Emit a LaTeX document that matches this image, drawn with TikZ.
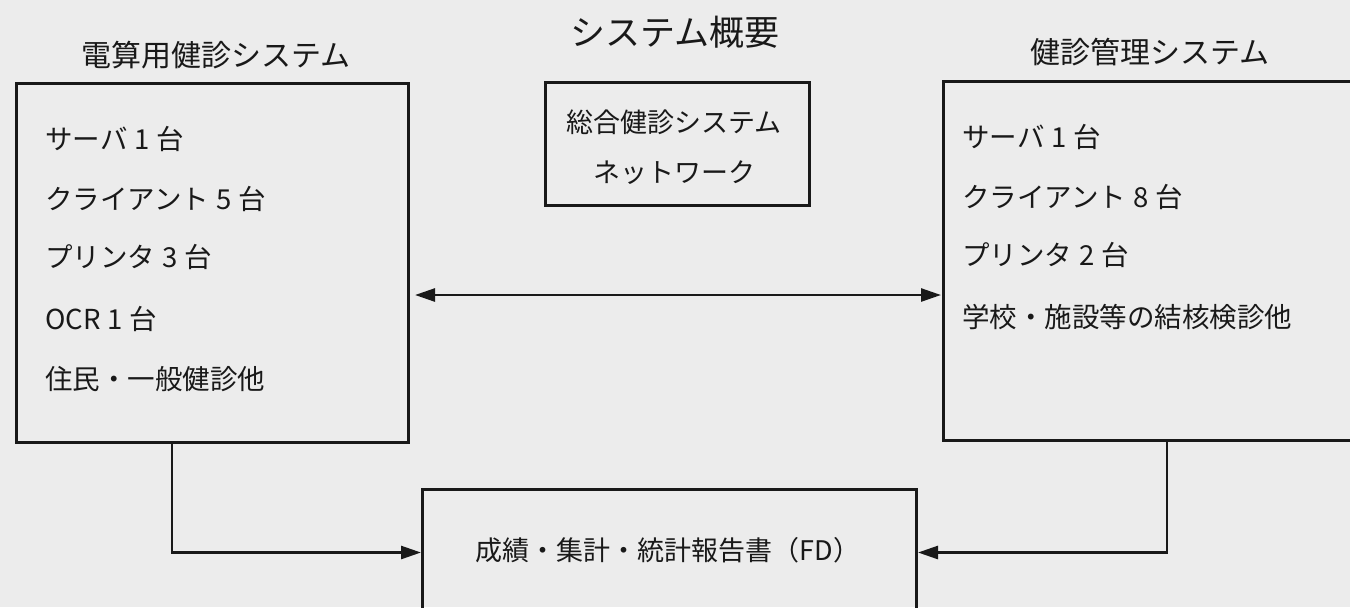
\documentclass[tikz,border=0pt]{standalone}
\usepackage{fontspec}
\setmainfont{Noto Sans CJK JP}
\usetikzlibrary{arrows.meta}
\definecolor{paper}{RGB}{236,236,236}
\definecolor{ink}{RGB}{25,25,25}
\tikzset{tri/.tip={Triangle[length=10pt,width=6.5pt]}}
\newcommand{\gapnum}[1]{\hspace{0.25em}#1\hspace{0.25em}}
\begin{document}
\begin{tikzpicture}[x=0.5pt,y=-0.5pt,
  box/.style={draw=ink, line width=1.5pt, inner sep=0pt, anchor=north west},
  item/.style={anchor=base west, inner sep=0pt, text=ink, font=\fontsize{13.75pt}{16pt}\selectfont},
  ttl/.style={anchor=base, inner sep=0pt, text=ink, font=\fontsize{15pt}{18pt}\selectfont},
  conn/.style={draw=ink, line width=1.3pt, -tri},
  dbl/.style={draw=ink, line width=1.3pt, tri-tri},
]
\path[use as bounding box] (0,0) rectangle (1350,607);
\fill[paper] (0,0) rectangle (1350,607);
\clip (0,0) rectangle (1350,607);

% titles
\node[ttl, font=\fontsize{17.5pt}{20pt}\selectfont] (main) at (675,45.3) {システム概要};
\node[ttl] (lt) at (216,66.4) {電算用健診システム};
\node[ttl] (rt) at (1150,63.4) {健診管理システム};

% boxes
\node[box, minimum width=196pt, minimum height=179.3pt] (L) at (15,82) {};
\node[box, minimum width=210pt, minimum height=179.3pt] (R) at (942,80) {};
\node[box, minimum width=132pt, minimum height=61.5pt] (C) at (543.6,81) {};
\node[box, minimum width=247pt, minimum height=63pt] (B) at (421,488) {};

% left items
\node[item] (l1) at (45,149.5) {サーバ\gapnum{1}台};
\node[item] (l2) at (45,209.5) {クライアント\gapnum{5}台};
\node[item] (l3) at (45,267.5) {プリンタ\gapnum{3}台};
\node[item] (l4) at (45,329.5) {OCR\gapnum{1}台};
\node[item] (l5) at (45,389.5) {住民・一般健診他};

% right items
\node[item] (r1) at (962,147.5) {サーバ\gapnum{1}台};
\node[item] (r2) at (962,207.5) {クライアント\gapnum{8}台};
\node[item] (r3) at (962,265.5) {プリンタ\gapnum{2}台};
\node[item] (r4) at (962,327.5) {学校・施設等の結核検診他};

% center box text
\node[ttl, font=\fontsize{13.5pt}{16pt}\selectfont] (c1) at (674,132.3) {総合健診システム};
\node[ttl, font=\fontsize{13.5pt}{16pt}\selectfont] (c2) at (674.5,182.3) {ネットワーク};

% bottom box text
\node[ttl, font=\fontsize{13.5pt}{16pt}\selectfont] (bt) at (668,560) {成績・集計・統計報告書（FD）};

% connectors
\coordinate (ay) at (0,295);
\coordinate (lx) at (172,0);
\coordinate (rx) at (1167,0);
\draw[dbl, shorten <=2.5pt, shorten >=0.5pt] (L.east |- ay) -- (R.west |- ay);
\draw[conn] (L.south -| lx) |- (B.west);
\draw[conn] (R.south -| rx) |- (B.east);
\end{tikzpicture}
\end{document}
